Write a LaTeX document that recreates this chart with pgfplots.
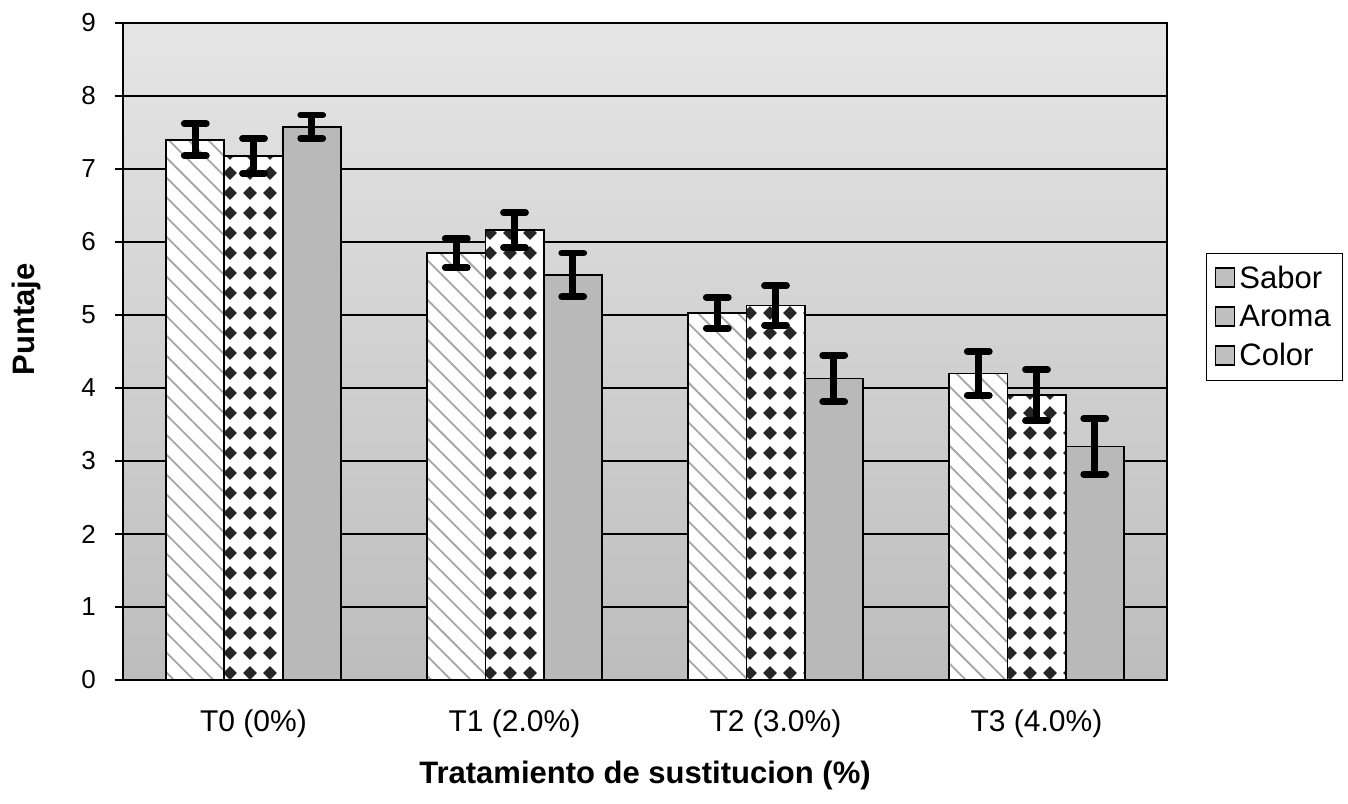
\documentclass[border=0pt]{standalone}
\usepackage{pgfplots}
\pgfplotsset{compat=1.18}
\usepackage{fontspec}
\setmainfont{Liberation Sans}
\usetikzlibrary{patterns,patterns.meta}

\pgfdeclarepatternformonly{diamondgrid}{\pgfqpoint{-1pt}{-1pt}}{\pgfqpoint{11pt}{11pt}}{\pgfqpoint{10pt}{10pt}}{%
  \pgfpathmoveto{\pgfqpoint{5pt}{1.6pt}}%
  \pgfpathlineto{\pgfqpoint{8.4pt}{5pt}}%
  \pgfpathlineto{\pgfqpoint{5pt}{8.4pt}}%
  \pgfpathlineto{\pgfqpoint{1.6pt}{5pt}}%
  \pgfpathclose
  \pgfusepath{fill}}

\begin{document}
\begin{tikzpicture}
\useasboundingbox (-61.5pt,-61.5pt) rectangle (612.5pt,340pt);
\begin{axis}[
  at={(0,0)}, anchor=south west,
  scale only axis,
  width=522pt, height=328.5pt,
  ybar=0pt,
  bar width=0.223,
  xmin=-0.5, xmax=3.5,
  ymin=0, ymax=9,
  ytick={0,1,...,9},
  xtick={0,1,2,3},
  xticklabels={T0 (0\%), T1 (2.0\%), T2 (3.0\%), T3 (4.0\%)},
  x tick style={draw=none},
  extra x ticks={0.5,1.5,2.5},
  extra x tick labels={},
  extra x tick style={tick style={draw=black, line width=0.6pt}, major tick length=5pt, tick align=outside},
  y tick style={draw=black, line width=0.6pt},
  major tick length=4pt,
  tick align=outside,
  xtick pos=bottom, ytick pos=left,
  axis line style={line width=0.9pt},
  ymajorgrids,
  major grid style={black, line width=0.6pt},
  axis background/.style={top color=gray!20, bottom color=gray!52},
  yticklabel style={font=\fontsize{13}{15}\selectfont, anchor=east, xshift=-6pt},
  xticklabel style={font=\fontsize{15}{18}\selectfont, anchor=center, yshift=-18pt},
  /pgf/number format/assume math mode=true,
  xlabel={\textbf{Tratamiento de sustitucion (\%)}},
  ylabel={\textbf{Puntaje}},
  xlabel style={font=\fontsize{15.5}{18}\selectfont, at={(axis description cs:0.5,-0.146)}, anchor=center},
  ylabel style={font=\fontsize{15.5}{18}\selectfont, at={(axis description cs:-0.092,0.549)}, anchor=center},
  legend style={at={(axis description cs:1.0374,0.65)}, anchor=north west, draw=black, line width=0.6pt,
    font=\fontsize{15.5}{18}\selectfont, row sep=3pt, inner xsep=4pt, inner ysep=4pt},
  legend cell align=left,
  error bars/error bar style={line width=3.6pt, black},
  error bars/error mark options={rotate=90, mark size=5.5pt, line width=3.4pt, black, line cap=round},
]
\addplot[forget plot, bar shift=-0.223, draw=black, line width=0.9pt, fill=white, postaction={pattern={Lines[angle=-45,distance=7pt,line width=0.9pt]}, pattern color=gray!70},
  error bars/.cd, y dir=both, y explicit]
  coordinates {(0,7.40) +- (0,0.22) (1,5.85) +- (0,0.20) (2,5.03) +- (0,0.21) (3,4.20) +- (0,0.30)};
\addplot[forget plot, bar shift=0, draw=black, line width=0.9pt, fill=white, postaction={pattern=diamondgrid, pattern color=black!85},
  error bars/.cd, y dir=both, y explicit]
  coordinates {(0,7.18) +- (0,0.24) (1,6.16) +- (0,0.24) (2,5.13) +- (0,0.27) (3,3.90) +- (0,0.35)};
\addplot[forget plot, bar shift=0.223, draw=black, line width=0.9pt, fill=gray!55,
  error bars/.cd, y dir=both, y explicit]
  coordinates {(0,7.58) +- (0,0.16) (1,5.55) +- (0,0.30) (2,4.13) +- (0,0.32) (3,3.20) +- (0,0.38)};
\addlegendimage{legend image code/.code={\draw[fill=gray!50, draw=black, line width=0.9pt] (0pt,-4.5pt) rectangle (9.5pt,5pt);}}
\addlegendentry{Sabor}
\addlegendimage{legend image code/.code={\draw[fill=gray!50, draw=black, line width=0.9pt] (0pt,-4.5pt) rectangle (9.5pt,5pt);}}
\addlegendentry{Aroma}
\addlegendimage{legend image code/.code={\draw[fill=gray!50, draw=black, line width=0.9pt] (0pt,-4.5pt) rectangle (9.5pt,5pt);}}
\addlegendentry{Color}
\end{axis}
\end{tikzpicture}
\end{document}
